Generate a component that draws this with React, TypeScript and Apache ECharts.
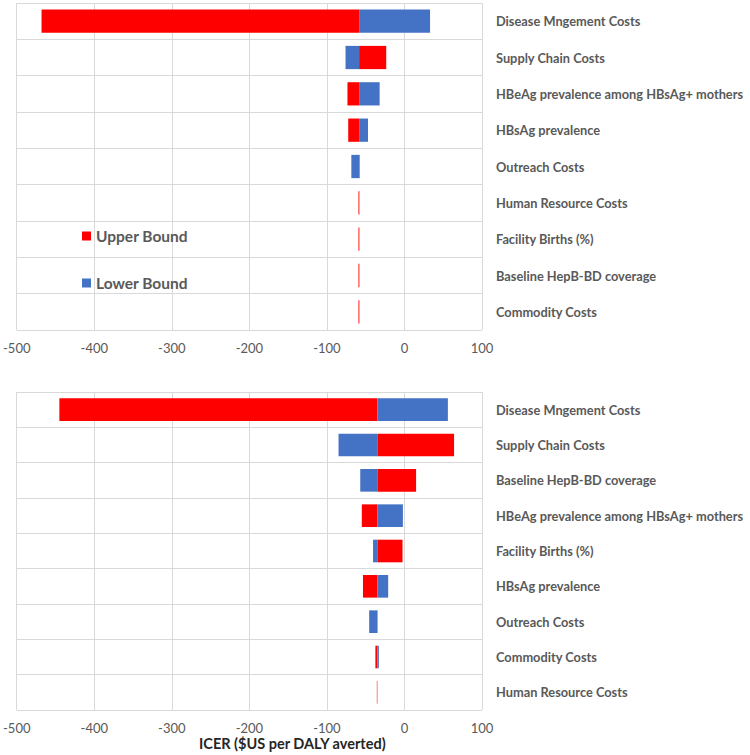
import React, { useEffect, useRef } from "react";
import * as echarts from "echarts";

const xTicks = [-500, -400, -300, -200, -100, 0, 100];

const topCategories = [
  "Disease Mngement Costs",
  "Supply Chain Costs",
  "HBeAg prevalence among HBsAg+ mothers",
  "HBsAg prevalence",
  "Outreach Costs",
  "Human Resource Costs",
  "Facility Births (%)",
  "Baseline HepB-BD coverage",
  "Commodity Costs",
];
const topBase = -58.5;
const topUpper = [-468, -23.5, -73.5, -72.5, -57.8, -59.3, -59.3, -59.3, -59.3];
const topLower = [33, -76, -32, -47, -68.5, -58, -58, -58, -58];

const bottomCategories = [
  "Disease Mngement Costs",
  "Supply Chain Costs",
  "Baseline HepB-BD coverage",
  "HBeAg prevalence among HBsAg+ mothers",
  "Facility Births (%)",
  "HBsAg prevalence",
  "Outreach Costs",
  "Commodity Costs",
  "Human Resource Costs",
];
const bottomBase = -35;
const bottomUpper = [-445, 64, 15, -55, -2.5, -53.5, -34.6, -37.5, -35.6];
const bottomLower = [56, -85, -57, -2, -40.5, -21, -45.5, -33, -34.9];

const RED = "#FF0000";
const BLUE = "#4472C4";
const GRID_LINE = "#D9D9D9";
const TEXT = "#595959";
const FONT = "Lato, 'Noto Sans', sans-serif";

function makeRender(color: string) {
  return (params: any, api: any) => {
    const cat = api.value(0);
    const a = api.value(1);
    const b = api.value(2);
    const p1 = api.coord([a, cat]);
    const p2 = api.coord([b, cat]);
    const h = api.size([0, 1])[1] * 0.64;
    return {
      type: "rect",
      shape: {
        x: Math.min(p1[0], p2[0]),
        y: p1[1] - h / 2,
        width: Math.abs(p2[0] - p1[0]),
        height: h,
      },
      style: { fill: color },
    };
  };
}

export default function App() {
  const ref = useRef<HTMLDivElement>(null);
  useEffect(() => {
    document.body.style.margin = "0";
    const chart = echarts.init(ref.current!, undefined, { renderer: "svg" });
    const xAxisBase = (gridIndex: number) => ({
      type: "value",
      gridIndex,
      min: xTicks[0],
      max: xTicks[xTicks.length - 1],
      interval: 100,
      axisLine: { show: false },
      axisTick: { show: false },
      splitLine: { show: true, lineStyle: { color: GRID_LINE, width: 1 } },
      axisLabel: { color: TEXT, fontSize: 13, fontFamily: FONT, margin: 11 },
    });
    const yAxisBase = (gridIndex: number, data: string[]) => ({
      type: "category",
      gridIndex,
      data,
      inverse: true,
      position: "right",
      axisLine: { show: false },
      axisTick: { show: false },
      splitLine: { show: true, lineStyle: { color: GRID_LINE, width: 1 } },
      axisLabel: {
        color: TEXT,
        fontSize: 12.8,
        fontWeight: "bold",
        fontFamily: FONT,
        margin: 14,
        align: "left",
      },
    });
    const mk = (cats: string[], base: number, vals: number[]) =>
      cats.map((_, i) => [i, base, vals[i]]);
    chart.setOption({
      animation: false,
      grid: [
        { left: 15, right: 268, top: 3, height: 327 },
        { left: 15, right: 268, top: 392, height: 318 },
      ],
      xAxis: [xAxisBase(0), xAxisBase(1)],
      yAxis: [yAxisBase(0, topCategories), yAxisBase(1, bottomCategories)],
      legend: {
        data: ["Upper Bound", "Lower Bound"],
        orient: "vertical",
        left: 82,
        top: 228,
        padding: 0,
        itemWidth: 9,
        itemHeight: 9,
        itemGap: 31,
        icon: "rect",
        textStyle: { color: TEXT, fontSize: 15.5, fontWeight: "bold", fontFamily: FONT, padding: [0, 0, 0, 0] },
      },
      series: [
        {
          name: "Upper Bound",
          type: "custom",
          xAxisIndex: 0,
          yAxisIndex: 0,
          itemStyle: { color: RED },
          renderItem: makeRender(RED),
          encode: { x: [1, 2], y: 0 },
          data: mk(topCategories, topBase, topUpper),
        },
        {
          name: "Lower Bound",
          type: "custom",
          xAxisIndex: 0,
          yAxisIndex: 0,
          itemStyle: { color: BLUE },
          renderItem: makeRender(BLUE),
          encode: { x: [1, 2], y: 0 },
          data: mk(topCategories, topBase, topLower),
        },
        {
          name: "Upper Bound",
          type: "custom",
          xAxisIndex: 1,
          yAxisIndex: 1,
          itemStyle: { color: RED },
          renderItem: makeRender(RED),
          encode: { x: [1, 2], y: 0 },
          data: mk(bottomCategories, bottomBase, bottomUpper),
        },
        {
          name: "Lower Bound",
          type: "custom",
          xAxisIndex: 1,
          yAxisIndex: 1,
          itemStyle: { color: BLUE },
          renderItem: makeRender(BLUE),
          encode: { x: [1, 2], y: 0 },
          data: mk(bottomCategories, bottomBase, bottomLower),
        },
      ],
      graphic: [
        {
          type: "text",
          left: 199,
          top: 736,
          style: {
            text: "ICER ($US per DALY averted)",
            fill: "#262626",
            font: `bold 14.5px ${FONT}`,
          },
        },
      ],
    });
    return () => chart.dispose();
  }, []);
  return <div ref={ref} style={{ width: 750, height: 755 }} />;
}
